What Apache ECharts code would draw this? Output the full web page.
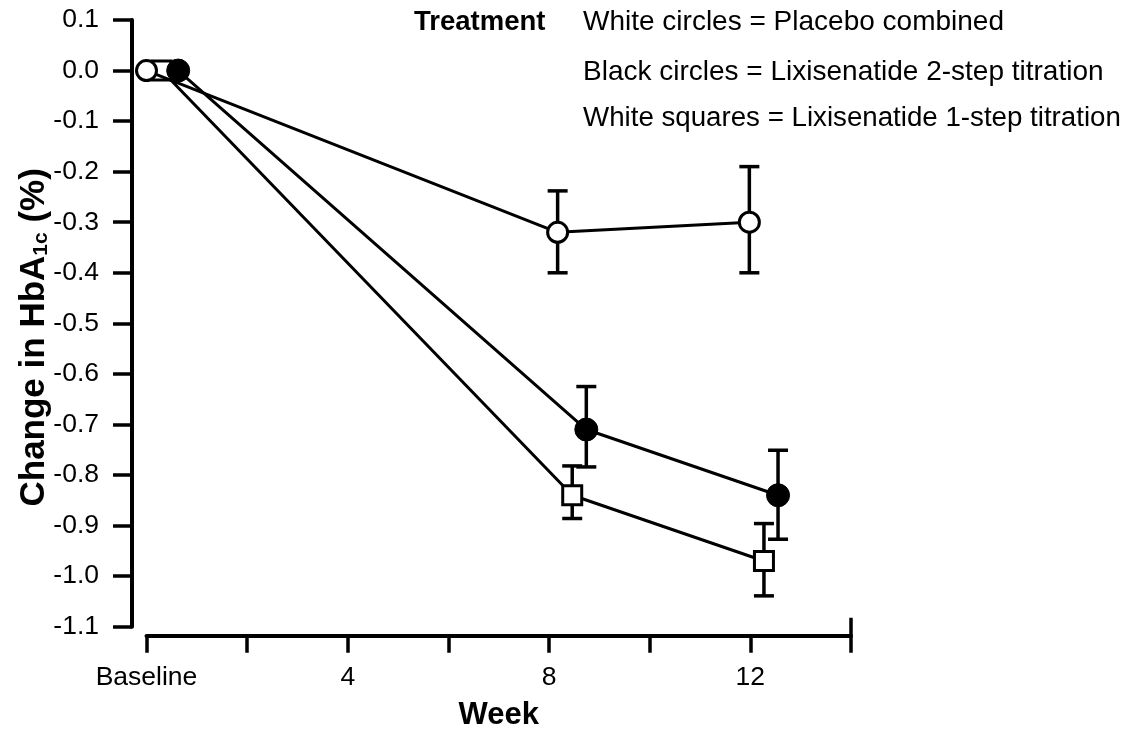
<!DOCTYPE html>
<html>
<head>
<meta charset="utf-8">
<script src="https://cdn.jsdelivr.net/npm/echarts@6/dist/echarts.min.js"></script>
<style>
html,body{margin:0;padding:0;background:#fff;}
#chart{width:1134px;height:731px;}
</style>
</head>
<body>
<div id="chart"></div>
<script>
// ---- data ----
const seriesNames = ['Placebo combined', 'Lixisenatide 2-step titration', 'Lixisenatide 1-step titration'];

// x positions in weeks (points are slightly offset horizontally in the original)
const placeboWeeks = [0, 8.17, 11.98];
const placeboValues = [0, -0.32, -0.30];
const placeboLower = [null, -0.40, -0.40];
const placeboUpper = [null, -0.238, -0.19];

const twoStepWeeks = [0.63, 8.74, 12.55];
const twoStepValues = [0, -0.71, -0.84];
const twoStepLower = [null, -0.784, -0.927];
const twoStepUpper = [null, -0.625, -0.751];

const oneStepWeeks = [0.30, 8.46, 12.27];
const oneStepValues = [0, -0.84, -0.97];
const oneStepLower = [null, -0.886, -1.039];
const oneStepUpper = [null, -0.782, -0.896];

const xTickValues = [0, 4, 8, 12];
const xTickLabels = ['Baseline', '4', '8', '12'];

const legendTitle = 'Treatment';
const legendLines = [
  'White circles = Placebo combined',
  'Black circles = Lixisenatide 2-step titration',
  'White squares = Lixisenatide 1-step titration'
];

// ---- build ----
const FONT = '"Liberation Sans", Arial, Helvetica, sans-serif';

function pts(xs, ys) { return xs.map((x, i) => [x, ys[i]]); }
function errPts(xs, ys, lo, hi) {
  const out = [];
  xs.forEach((x, i) => { if (lo[i] != null) out.push([x, ys[i], lo[i], hi[i]]); });
  return out;
}

function errorBarSeries(data) {
  return {
    type: 'custom',
    z: 2,
    silent: true,
    data: data,
    encode: { x: 0, y: [1, 2, 3] },
    renderItem: function (params, api) {
      const x = api.value(0);
      const lo = api.coord([x, api.value(2)]);
      const hi = api.coord([x, api.value(3)]);
      const hw = 10;
      const st = { stroke: '#000', lineWidth: 3.5 };
      return {
        type: 'group',
        children: [
          { type: 'line', shape: { x1: lo[0], y1: lo[1], x2: hi[0], y2: hi[1] }, style: st },
          { type: 'line', shape: { x1: lo[0] - hw, y1: lo[1], x2: lo[0] + hw, y2: lo[1] }, style: st },
          { type: 'line', shape: { x1: hi[0] - hw, y1: hi[1], x2: hi[0] + hw, y2: hi[1] }, style: st }
        ]
      };
    }
  };
}

const chart = echarts.init(document.getElementById('chart'), null, { renderer: 'canvas' });

const option = {
  backgroundColor: '#fff',
  animation: false,
  grid: { left: 146.5, right: 283, top: 20, bottom: 104.3, containLabel: false, outerBoundsMode: 'none' },
  xAxis: [{
    type: 'value',
    min: 0, max: 14, interval: 2,
    offset: 9,
    position: 'bottom',
    name: 'Week',
    nameLocation: 'middle',
    nameGap: 64,
    nameMoveOverlap: false,
    nameTextStyle: { fontFamily: FONT, fontWeight: 'bold', fontSize: 31, color: '#000' },
    axisLine: { show: true, onZero: false, lineStyle: { color: '#000', width: 4 } },
    axisTick: { show: true, length: 17, lineStyle: { color: '#000', width: 3.5 } },
    axisLabel: {
      margin: 28,
      fontFamily: FONT, fontSize: 26.5, color: '#000',
      formatter: function (v) { const i = xTickValues.indexOf(v); return i >= 0 ? xTickLabels[i] : ''; }
    },
    splitLine: { show: false }
  }, {
    type: 'value',
    min: 0, max: 14, interval: 14,
    offset: 9,
    position: 'bottom',
    axisLine: { show: false, onZero: false },
    axisTick: { show: true, inside: true, length: 18, customValues: [14], lineStyle: { color: '#000', width: 3.5 } },
    axisLabel: { show: false },
    splitLine: { show: false }
  }],
  yAxis: {
    type: 'value',
    min: -1.1, max: 0.1, interval: 0.1,
    offset: 14.5,
    name: '{a|Change in HbA}{s|1c}{a| (%)}',
    nameLocation: 'middle',
    nameGap: 80,
    nameMoveOverlap: false,
    nameTextStyle: {
      color: '#000',
      padding: [0, 28, 0, 0],
      rich: {
        a: { fontFamily: FONT, fontWeight: 'bold', fontSize: 35, color: '#000', lineHeight: 36 },
        s: { fontFamily: FONT, fontWeight: 'bold', fontSize: 21, color: '#000', lineHeight: 14, verticalAlign: 'bottom' }
      }
    },
    axisLine: { show: true, onZero: false, lineStyle: { color: '#000', width: 4 } },
    axisTick: { show: true, length: 19, lineStyle: { color: '#000', width: 3.5 } },
    axisLabel: {
      margin: 33,
      fontFamily: FONT, fontSize: 26.5, color: '#000',
      formatter: function (v) { return (Math.round(v * 10) / 10).toFixed(1); }
    },
    splitLine: { show: false }
  },
  series: [
    errorBarSeries(errPts(oneStepWeeks, oneStepValues, oneStepLower, oneStepUpper)),
    errorBarSeries(errPts(placeboWeeks, placeboValues, placeboLower, placeboUpper)),
    errorBarSeries(errPts(twoStepWeeks, twoStepValues, twoStepLower, twoStepUpper)),
    {
      name: seriesNames[2],
      type: 'line', z: 3,
      data: pts(oneStepWeeks, oneStepValues),
      symbol: 'rect', symbolSize: 19,
      lineStyle: { color: '#000', width: 3 },
      itemStyle: { color: '#fff', borderColor: '#000', borderWidth: 3 }
    },
    {
      name: seriesNames[0],
      type: 'line', z: 4,
      data: pts(placeboWeeks, placeboValues),
      symbol: 'circle', symbolSize: 20,
      lineStyle: { color: '#000', width: 3 },
      itemStyle: { color: '#fff', borderColor: '#000', borderWidth: 3 }
    },
    {
      name: seriesNames[1],
      type: 'line', z: 5,
      data: pts(twoStepWeeks, twoStepValues),
      symbol: 'circle', symbolSize: 23,
      lineStyle: { color: '#000', width: 3 },
      itemStyle: { color: '#000', borderColor: '#000', borderWidth: 1 }
    }
  ],
  graphic: [
    { type: 'text', x: 414, y: 22.5, style: { text: legendTitle, fontFamily: FONT, fontWeight: 'bold', fontSize: 27.5, fill: '#000', verticalAlign: 'middle' } },
    { type: 'text', x: 583, y: 22.5, style: { text: legendLines[0], fontFamily: FONT, fontSize: 28, fill: '#000', verticalAlign: 'middle' } },
    { type: 'text', x: 583, y: 72.5, style: { text: legendLines[1], fontFamily: FONT, fontSize: 28, fill: '#000', verticalAlign: 'middle' } },
    { type: 'text', x: 583, y: 118.5, style: { text: legendLines[2], fontFamily: FONT, fontSize: 27.7, fill: '#000', verticalAlign: 'middle' } }
  ]
};

chart.setOption(option);
</script>
</body>
</html>
